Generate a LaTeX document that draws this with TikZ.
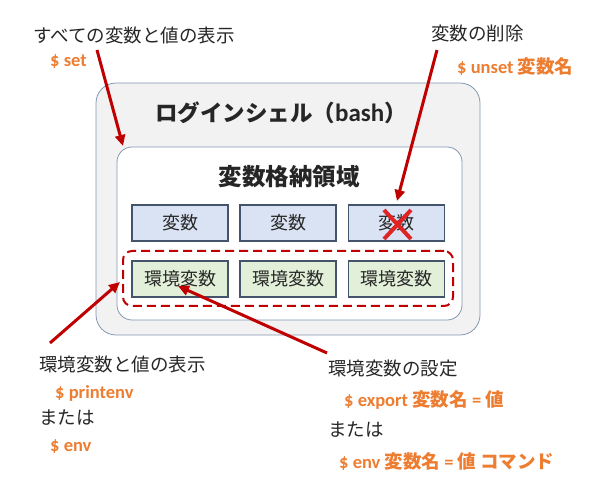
\documentclass[tikz,border=0pt]{standalone}
\usepackage{fontspec}
\newfontfamily\cjk{Noto Sans CJK JP}
\newfontfamily\lat{Carlito}
\usetikzlibrary{arrows.meta}
\definecolor{txtgray}{HTML}{262626}
\definecolor{orng}{HTML}{ED7D31}
\definecolor{darkred}{HTML}{C00000}
\definecolor{xred}{HTML}{E02424}
\definecolor{frame}{HTML}{8497B0}
\definecolor{varbd}{HTML}{44546A}
\definecolor{varblue}{HTML}{DAE3F3}
\definecolor{vargreen}{HTML}{E2F0D9}
\definecolor{shellbg}{HTML}{F2F2F2}
\tikzset{
  lbl/.style={anchor=west,inner sep=0pt,text=txtgray,font=\cjk\fontsize{18.5}{20}\selectfont},
  cmd/.style={anchor=west,inner sep=0pt,text=orng,font=\fontsize{18.5}{20}\selectfont},
  varbox/.style={draw=varbd,line width=1.6pt,minimum width=96pt,minimum height=36pt,inner sep=0pt,text=txtgray,font=\cjk\fontsize{18}{20}\selectfont},
  redarrow/.style={draw=darkred,line width=3pt,-{Triangle[length=11pt,width=10pt]}},
}
\begin{document}
\begin{tikzpicture}[x=1pt,y=-1pt]
\useasboundingbox (0,0) rectangle (597,494);
% outer shell box
\node[draw=frame,fill=shellbg,line width=0.8pt,rounded corners=20pt,minimum width=384pt,minimum height=252pt,inner sep=0pt] (shell) at (288,209) {};
\node[inner sep=0pt,text=txtgray] (shelltitle) at (281,113) {{\cjk\bfseries\fontsize{22.5}{24}\selectfont ログインシェル（}{\lat\bfseries\fontsize{25}{26}\selectfont bash}{\cjk\bfseries\fontsize{22.5}{24}\selectfont ）}};
% inner storage box
\node[draw=frame,fill=white,line width=0.8pt,rounded corners=15pt,minimum width=345pt,minimum height=173pt,inner sep=0pt] (store) at (289.5,233.5) {};
\node[inner sep=0pt,text=txtgray,font=\cjk\bfseries\fontsize{23.5}{26}\selectfont] (storetitle) at (289,177) {変数格納領域};
% variable boxes
\node[varbox,fill=varblue] (v1) at (180,223) {変数};
\node[varbox,fill=varblue] (v2) at (288,223) {変数};
\node[varbox,fill=varblue] (v3) at (396.5,223) {変数};
\node[varbox,fill=vargreen] (e1) at (180,279) {環境変数};
\node[varbox,fill=vargreen] (e2) at (288,279) {環境変数};
\node[varbox,fill=vargreen] (e3) at (396.5,279) {環境変数};
% dashed env group
\node[draw=darkred,line width=2pt,dash pattern=on 9pt off 5pt,rounded corners=9pt,minimum width=330pt,minimum height=55pt,inner sep=0pt] (envgroup) at (288,278.5) {};
% red X
\coordinate (xa) at (384,210);
\coordinate (xb) at (411,239);
\coordinate (xc) at (411,210);
\coordinate (xd) at (384,239);
\draw[xred,line width=4pt] (xa) -- (xb);
\draw[xred,line width=4pt] (xc) -- (xd);
% labels
\node[lbl] (lset) at (33,35) {すべての変数と値の表示};
\node[cmd] (cset) at (50,62) {\lat\bfseries \$ set};
\node[lbl] (lunset) at (431,33) {変数の削除};
\node[cmd] (cunset) at (457,67) {{\lat\bfseries \$ unset }{\cjk\bfseries 変数名}};
\node[lbl] (lprint) at (39,364) {環境変数と値の表示};
\node[cmd] (cprint) at (55,393) {\lat\bfseries \$ printenv};
\node[lbl] (lor1) at (39,418) {または};
\node[cmd] (cenv) at (50,447) {\lat\bfseries \$ env};
\node[lbl] (lexport) at (328,369) {環境変数の設定};
\node[cmd] (cexport) at (344,400) {{\lat\bfseries \$ export }{\cjk\bfseries 変数名}{\lat\bfseries\ = }{\cjk\bfseries 値}};
\node[lbl] (lor2) at (328,430) {または};
\node[cmd] (cenv2) at (339,462) {{\lat\bfseries \$ env }{\cjk\bfseries 変数名}{\lat\bfseries\ = }{\cjk\bfseries 値}{\lat\bfseries\ }{\cjk\bfseries コマンド}};
% arrows
\coordinate (a1s) at (97,50);
\coordinate (a1e) at (123,146);
\coordinate (a2s) at (437,50);
\coordinate (a2e) at (397,201);
\coordinate (a3s) at (50,343);
\coordinate (a3e) at (120,282);
\coordinate (a4s) at (327,353);
\coordinate (a4e) at (178,286);
\draw[redarrow] (a1s) -- (a1e);
\draw[redarrow] (a2s) -- (a2e);
\draw[redarrow] (a3s) -- (a3e);
\draw[redarrow] (a4s) -- (a4e);
\end{tikzpicture}
\end{document}
